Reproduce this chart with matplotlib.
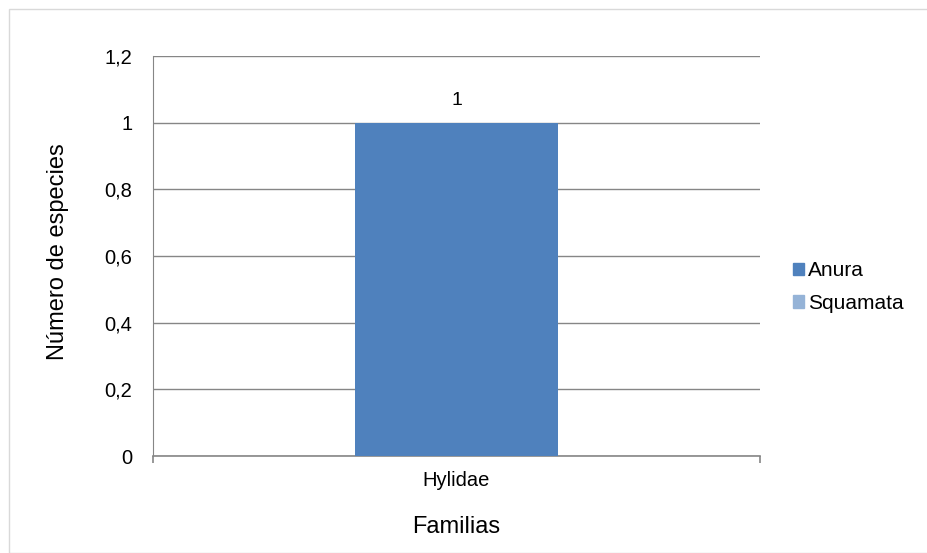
import matplotlib.pyplot as plt
from matplotlib.patches import Patch, Rectangle

familias = ['Hylidae']
anura = [1]
series = ['Anura', 'Squamata']
colores = ['#4F81BD', '#95B3D7']
yticks = [0, 0.2, 0.4, 0.6, 0.8, 1.0, 1.2]
ytick_labels = ['0', '0,2', '0,4', '0,6', '0,8', '1', '1,2']

plt.rcParams['font.family'] = ['Liberation Sans', 'DejaVu Sans']

fig = plt.figure(figsize=(9.27, 5.53), dpi=100)
fig.patches.append(Rectangle((9 / 927, 0), 1, 1 - 9 / 553, transform=fig.transFigure,
                             fill=False, edgecolor='#D9D9D9', linewidth=1))
ax = fig.add_axes([153 / 927, 1 - 456 / 553, 607 / 927, 400 / 553])

x = list(range(len(familias)))
bars = ax.bar(x, anura, width=1 / 3, color=colores[0], zorder=3)
ax.bar_label(bars, labels=[str(v) for v in anura], padding=10, fontsize=14)

ax.set_xlim(-0.5, 0.5)
ax.set_ylim(0, 1.2)
ax.set_yticks(yticks)
ax.set_yticklabels(ytick_labels, fontsize=14.5)
ax.tick_params(axis='y', length=0, pad=15)
ax.set_xticks([-0.5, 0.5], minor=False)
ax.set_xticklabels(['', ''])
ax.tick_params(axis='x', which='major', length=5, color='#868686', width=1.2)
ax.set_xticks(x, minor=True)
ax.set_xticklabels(familias, minor=True, fontsize=14.5)
ax.tick_params(axis='x', which='minor', length=0, pad=11)

ax.grid(axis='y', color='#868686', linewidth=1, zorder=0)
for s in ['top', 'right']:
    ax.spines[s].set_visible(False)
ax.spines['left'].set_color('#868686')
ax.spines['bottom'].set_color('#868686')
ax.spines['bottom'].set_linewidth(1.2)

ax.set_ylabel('Número de especies', fontsize=17, va='center')
ax.yaxis.set_label_coords((58 - 153) / 607, (456 - 252) / 400)
ax.set_xlabel('Familias', fontsize=17, va='center')
ax.xaxis.set_label_coords(0.5, (456 - 527) / 400)

handles = [Patch(color=c, label=s) for s, c in zip(series, colores)]
fig.legend(handles=handles, loc='center left', bbox_to_anchor=(793 / 927, 1 - 287 / 553),
           frameon=False, fontsize=15, handlelength=0.53, handleheight=0.53,
           handletextpad=0.2, labelspacing=0.65, borderaxespad=0, borderpad=0)

fig.savefig('out.png', dpi=100)
